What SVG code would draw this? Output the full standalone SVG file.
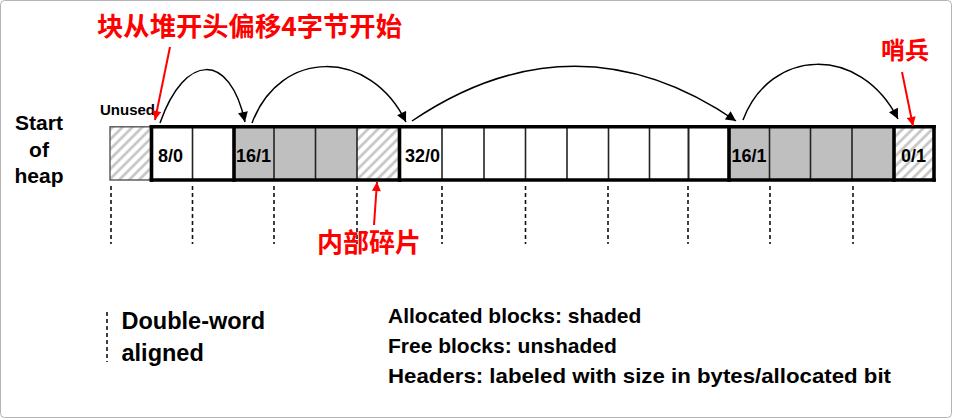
<svg xmlns="http://www.w3.org/2000/svg" width="953" height="419" viewBox="0 0 953 419">
<style>
.lbl{font-family:"Liberation Sans",Arial,sans-serif;font-weight:bold;fill:#000}
.cjk{font-family:"Noto Sans CJK SC","Noto Sans CJK JP",sans-serif;font-weight:bold;fill:#f00}
.thick{stroke:#000;stroke-width:3.6;fill:none}
.thin{stroke:#222;stroke-width:1.6;fill:none}
.dash{stroke:#111;stroke-width:1.6;stroke-dasharray:4,3;fill:none}
.curve{stroke:#000;stroke-width:1.5;fill:none;marker-end:url(#ah)}
.red{stroke:#f00;stroke-width:2;fill:none;marker-end:url(#rh)}
.gray{fill:#bfbfbf}
.hatch{fill:url(#hp)}
</style>
<defs>
<pattern id="hp" patternUnits="userSpaceOnUse" width="7" height="7" patternTransform="rotate(45)">
<rect width="7" height="7" fill="#fff"/>
<line x1="1.5" y1="0" x2="1.5" y2="7" stroke="#c4c4c4" stroke-width="2.6"/>
</pattern>
<marker id="ah" viewBox="0 0 10 10" refX="10" refY="5" markerWidth="11" markerHeight="10" markerUnits="userSpaceOnUse" orient="auto">
<path d="M0,0 L10,5 L0,10 z" fill="#000"/>
</marker>
<marker id="rh" viewBox="0 0 10 10" refX="10" refY="5" markerWidth="10" markerHeight="9" markerUnits="userSpaceOnUse" orient="auto">
<path d="M0,0 L10,5 L0,10 z" fill="#f00"/>
</marker>
</defs>
<rect x="0.5" y="0.5" width="951" height="417" rx="4" fill="#fff" stroke="#b4b4b4" stroke-width="1"/>

<g id="start-of-heap" class="lbl" font-size="21" text-anchor="middle">
<text x="39" y="130">Start</text>
<text x="39" y="157">of</text>
<text x="39" y="183">heap</text>
</g>

<g id="unused">
<rect x="110" y="126.8" width="41" height="53.2" class="hatch" stroke="#555" stroke-width="1.4"/>
<text x="100" y="115" class="lbl" font-size="15">Unused</text>
</g>

<g id="heap-bar">
<rect x="151.5" y="126.8" width="82.5" height="53.2" fill="#fff"/>
<rect x="234" y="126.8" width="123" height="53.2" class="gray"/>
<rect x="357" y="126.8" width="42.5" height="53.2" class="hatch"/>
<rect x="399.5" y="126.8" width="329.5" height="53.2" fill="#fff"/>
<rect x="729" y="126.8" width="165" height="53.2" class="gray"/>
<rect x="894" y="126.8" width="40" height="53.2" class="hatch"/>
<g class="thin">
<line x1="192.5" y1="126.8" x2="192.5" y2="180"/>
<line x1="274" y1="126.8" x2="274" y2="180"/>
<line x1="315.5" y1="126.8" x2="315.5" y2="180"/>
<line x1="357" y1="126.8" x2="357" y2="180"/>
<line x1="442" y1="126.8" x2="442" y2="180"/>
<line x1="484" y1="126.8" x2="484" y2="180"/>
<line x1="525.5" y1="126.8" x2="525.5" y2="180"/>
<line x1="567" y1="126.8" x2="567" y2="180"/>
<line x1="608.5" y1="126.8" x2="608.5" y2="180"/>
<line x1="649.5" y1="126.8" x2="649.5" y2="180"/>
<line x1="688.5" y1="126.8" x2="688.5" y2="180" stroke-width="2"/>
<line x1="769.5" y1="126.8" x2="769.5" y2="180"/>
<line x1="810.5" y1="126.8" x2="810.5" y2="180"/>
<line x1="852" y1="126.8" x2="852" y2="180"/>
</g>
<g class="thick">
<line x1="149.7" y1="126.8" x2="935.8" y2="126.8"/>
<line x1="149.7" y1="180" x2="935.8" y2="180"/>
<line x1="151.5" y1="125" x2="151.5" y2="181.8"/>
<line x1="234" y1="125" x2="234" y2="181.8"/>
<line x1="399.5" y1="125" x2="399.5" y2="181.8"/>
<line x1="729" y1="125" x2="729" y2="181.8"/>
<line x1="894" y1="125" x2="894" y2="181.8"/>
<line x1="934" y1="125" x2="934" y2="181.8"/>
</g>
<g class="lbl" font-size="18">
<text x="158" y="161.5">8/0</text>
<text x="236" y="161.5">16/1</text>
<text x="405" y="161.5">32/0</text>
<text x="731.5" y="161.5">16/1</text>
<text x="901" y="161.5">0/1</text>
</g>
</g>

<g id="alignment-marks" class="dash">
<line x1="111" y1="186" x2="111" y2="244"/>
<line x1="192.5" y1="186" x2="192.5" y2="244"/>
<line x1="274" y1="186" x2="274" y2="244"/>
<line x1="357" y1="186" x2="357" y2="244"/>
<line x1="442" y1="186" x2="442" y2="244"/>
<line x1="525.5" y1="186" x2="525.5" y2="244"/>
<line x1="608" y1="186" x2="608" y2="244"/>
<line x1="688" y1="186" x2="688" y2="244"/>
<line x1="770" y1="186" x2="770" y2="244"/>
<line x1="853" y1="186" x2="853" y2="244"/>
</g>

<g id="connectors">
<path class="curve" d="M160,123 C185,52 230,52 245,122"/>
<path class="curve" d="M252,123 C280,48 370,48 406,122"/>
<path class="curve" d="M412,121 C520,48 630,48 736,121"/>
<path class="curve" d="M743,120 C770,48 860,44 898,119"/>
<path class="red" d="M170,47 L155,120"/>
<path class="red" d="M374,225 L377,182"/>
<path class="red" d="M902,72 L913,126"/>
</g>

<g id="title-label">
<text x="97" y="35.5" class="cjk" font-size="26" textLength="305" lengthAdjust="spacingAndGlyphs">块从堆开头偏移4字节开始</text>
</g>
<g id="sentinel-label">
<text x="881" y="58.5" class="cjk" font-size="24">哨兵</text>
</g>
<g id="fragment-label">
<text x="317" y="252" class="cjk" font-size="26">内部碎片</text>
</g>

<g id="legend-aligned">
<line x1="107" y1="312" x2="107" y2="362" class="dash"/>
<text x="121.5" y="329" class="lbl" font-size="23.5">Double-word</text>
<text x="121.5" y="361" class="lbl" font-size="23.5">aligned</text>
</g>
<g id="legend-text" class="lbl" font-size="21">
<text x="388" y="323">Allocated blocks: shaded</text>
<text x="388" y="353">Free blocks: unshaded</text>
<text x="388" y="383" textLength="503" lengthAdjust="spacingAndGlyphs">Headers: labeled with size in bytes/allocated bit</text>
</g>
</svg>
